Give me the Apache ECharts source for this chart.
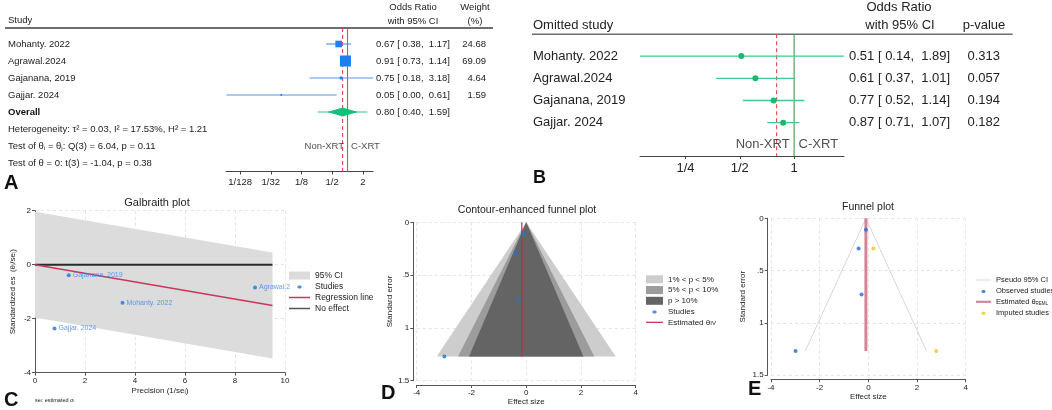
<!DOCTYPE html>
<html>
<head>
<meta charset="utf-8">
<script src="https://cdn.jsdelivr.net/npm/echarts@6/dist/echarts.min.js"></script>
<style>
html, body { margin: 0; padding: 0; background: #fff; }
#chart { width: 1052px; height: 410px; }
</style>
</head>
<body>
<div id="chart"></div>
<script>
// ---- A: forest plot ----
var studies = ['Mohanty. 2022', 'Agrawal.2024', 'Gajanana, 2019', 'Gajjar. 2024'];
var orA = [0.67, 0.91, 0.75, 0.05];
var loA = [0.38, 0.73, 0.18, 0.0042];
var hiA = [1.17, 1.14, 3.18, 0.61];
var weightA = [24.68, 69.09, 4.64, 1.59];
var overallA = [0.80, 0.40, 1.59];
var predA = [0.26, 2.46];
var statsA = [
  'Heterogeneity: τ² = 0.03, I² = 17.53%, H² = 1.21',
  'Test of θ{s|i} = θ{s|j}: Q(3) = 6.04, p = 0.11',
  'Test of θ = 0: t(3) = -1.04, p = 0.38'
];
var ticksA = [1 / 128, 1 / 32, 1 / 8, 1 / 2, 2];
var tickLabelsA = ['1/128', '1/32', '1/8', '1/2', '2'];

// ---- B: leave-one-out ----
var orB = [0.51, 0.61, 0.77, 0.87];
var loB = [0.14, 0.37, 0.52, 0.71];
var hiB = [1.89, 1.01, 1.14, 1.07];
var pB = ['0.313', '0.057', '0.194', '0.182'];
var overallB = 0.80;
var ticksB = [1 / 4, 1 / 2, 1];
var tickLabelsB = ['1/4', '1/2', '1'];

// ---- C: Galbraith ----
var precision = [3.5, 8.8, 1.35, 0.78];
var stdEs = [-1.41, -0.84, -0.39, -2.36];
var galX = [0, 9.5];
var regY = [0, -1.51];
var ciUp = [1.96, 0.45];
var ciLow = [-1.96, -3.47];

// ---- D / E: funnel plots ----
var effect = [-0.40, -0.10, -0.28, -2.99];
var se = [0.29, 0.11, 0.73, 1.27];
var contourNames = ['1% < p < 5%', '5% < p < 10%', 'p > 10%'];
var contourHalf = [3.27, 2.49, 2.09];
var contourColors = ['#cdcdcd', '#9c9c9c', '#646464'];
var seMax = 1.27;
var thetaIV = -0.16;
var imputedEff = [0.21, 2.79];
var imputedSe = [0.29, 1.27];
var thetaREML = -0.1;
var pseudoX = [-2.59, -0.1, 2.39];
var pseudoY = [1.27, 0, 1.27];

var FONT = '"Liberation Sans", Arial, sans-serif';
var log2 = function (v) { return Math.log(v) / Math.LN2; };
var ciText = function (o, l, h) { return o.toFixed(2) + ' [ ' + l.toFixed(2) + ',  ' + h.toFixed(2) + ']'; };

var rowsA = studies.concat(['Overall']).concat(statsA);
var rowsB = studies.concat(['']);

var chart = echarts.init(document.getElementById('chart'));

function renderStudyA(params, api) {
  var y = api.value(0);
  var c = api.coord([api.value(1), y]);
  var lo = api.coord([api.value(2), y]);
  var hi = api.coord([api.value(3), y]);
  var side = 1.33 * Math.sqrt(api.value(4));
  return { type: 'group', children: [
    { type: 'line', shape: { x1: lo[0], y1: c[1], x2: hi[0], y2: c[1] }, style: { stroke: '#5598e6', lineWidth: 1.2 } },
    { type: 'rect', shape: { x: c[0] - side / 2, y: c[1] - side / 2, width: side, height: side }, style: { fill: '#1f7ef0' } }
  ]};
}

function renderOverallA(params, api) {
  var y = api.value(0);
  var c = api.coord([api.value(1), y]);
  var lo = api.coord([api.value(2), y]);
  var hi = api.coord([api.value(3), y]);
  var pl = api.coord([api.value(4), y]);
  var ph = api.coord([api.value(5), y]);
  return { type: 'group', children: [
    { type: 'line', shape: { x1: pl[0], y1: c[1], x2: ph[0], y2: c[1] }, style: { stroke: '#2cc484', lineWidth: 1.2 } },
    { type: 'polygon', shape: { points: [[lo[0], c[1]], [c[0], c[1] - 4.5], [hi[0], c[1]], [c[0], c[1] + 4.5]] }, style: { fill: '#14bf78' } }
  ]};
}

function renderStudyB(params, api) {
  var y = api.value(0);
  var c = api.coord([api.value(1), y]);
  var lo = api.coord([api.value(2), y]);
  var hi = api.coord([api.value(3), y]);
  return { type: 'group', children: [
    { type: 'line', shape: { x1: lo[0], y1: c[1], x2: hi[0], y2: c[1] }, style: { stroke: '#3fcb8f', lineWidth: 1.3 } },
    { type: 'circle', shape: { cx: c[0], cy: c[1], r: 3 }, style: { fill: '#1cb870' } }
  ]};
}

function renderRef(ext) {
  return function (params, api) {
    var x = api.coord([api.value(0), 0])[0];
    var cs = params.coordSys;
    var dashed = api.value(2) === 1;
    return { type: 'line', shape: { x1: x, y1: cs.y - ext, x2: x, y2: cs.y + cs.height },
      style: { stroke: dashed ? '#e8454f' : '#3a9e52', lineWidth: 1.1, lineDash: dashed ? [4, 3] : null } };
  };
}

function renderBand(params, api) {
  var p = [
    api.coord([api.value(0), api.value(1)]), api.coord([api.value(3), api.value(4)]),
    api.coord([api.value(3), api.value(5)]), api.coord([api.value(0), api.value(2)])
  ];
  return { type: 'polygon', shape: { points: p }, style: { fill: api.visual('color') } };
}

function renderContour(params, api) {
  var h = api.value(0), s = api.value(1), c0 = api.value(2);
  var p = [api.coord([c0, 0]), api.coord([c0 - h, s]), api.coord([c0 + h, s])];
  return { type: 'polygon', shape: { points: p }, style: { fill: api.visual('color') } };
}

function stataAxis(extra) {
  var base = {
    type: 'value',
    axisLine: { show: true, onZero: false, lineStyle: { color: '#555', width: 1 } },
    axisTick: { show: true, length: 3, lineStyle: { color: '#555' } },
    axisLabel: { fontSize: 8, color: '#222', margin: 4, formatter: function (v) { return String(v).replace(/^0\./, '.'); } },
    splitLine: { show: true, lineStyle: { color: '#e4e4e4', type: [3, 3] } },
    nameLocation: 'middle',
    nameTextStyle: { fontSize: 8, color: '#222' }
  };
  for (var k in extra) base[k] = extra[k];
  return base;
}

var subRich = { s: { fontSize: 6, verticalAlign: 'bottom', padding: [3, 0, 0, 0] }, b: { fontSize: 9.5, fontWeight: 'bold', color: '#111' } };
var lineIcon = function (w, t) { return 'path://M0,0M' + w + ',8M0,' + (4 - t / 2) + 'L' + w + ',' + (4 - t / 2) + 'L' + w + ',' + (4 + t / 2) + 'L0,' + (4 + t / 2) + 'Z'; };
var dotIcon = function (w) { var c = w / 2; return 'path://M0,0M' + w + ',8M' + (c - 1) + ',3L' + (c + 1) + ',3L' + (c + 2) + ',4L' + (c + 2) + ',5L' + (c + 1) + ',6L' + (c - 1) + ',6L' + (c - 2) + ',5L' + (c - 2) + ',4Z'; };

var sideData = function (row) {
  return [
    { value: [0, row], label: { position: 'left', formatter: 'Non-XRT' } },
    { value: [0, row], label: { position: 'right', formatter: 'C-XRT' } }
  ];
};

var option = {
  animation: false,
  textStyle: { fontFamily: FONT },
  grid: [
    { left: 226, top: 35.5, width: 147, height: 136 },
    { left: 640, top: 45, width: 204, height: 111 },
    { left: 35, top: 210.7, width: 250, height: 162 },
    { left: 416.7, top: 222.3, width: 219, height: 158.4 },
    { left: 771, top: 218.3, width: 194.7, height: 156.7 }
  ],
  xAxis: [
    { gridIndex: 0, type: 'value', min: -7.92, max: 1.66,
      axisLine: { show: true, lineStyle: { color: '#444' } },
      axisTick: { show: true, customValues: ticksA.map(log2), length: 3, lineStyle: { color: '#444' } },
      axisLabel: { customValues: ticksA.map(log2), fontSize: 9.5, color: '#222', margin: 6,
        formatter: function (v) { return tickLabelsA[ticksA.map(log2).map(Math.round).indexOf(Math.round(v))]; } },
      splitLine: { show: false } },
    { gridIndex: 1, type: 'value', min: log2(0.14), max: log2(1.89),
      axisLine: { show: true, lineStyle: { color: '#444' } },
      axisTick: { show: true, customValues: ticksB.map(log2), length: 3, lineStyle: { color: '#444' } },
      axisLabel: { customValues: ticksB.map(log2), fontSize: 13, color: '#222', margin: 6,
        formatter: function (v) { return tickLabelsB[ticksB.map(log2).map(Math.round).indexOf(Math.round(v))]; } },
      splitLine: { show: false } },
    stataAxis({ gridIndex: 2, min: 0, max: 10, interval: 2, name: 'Precision (1/seᵢ)', nameGap: 14 }),
    stataAxis({ gridIndex: 3, min: -4, max: 4, interval: 2, offset: 4.3, name: 'Effect size', nameGap: 13 }),
    stataAxis({ gridIndex: 4, min: -4, max: 4, interval: 2, offset: 4.3, name: 'Effect size', nameGap: 13 })
  ],
  yAxis: [
    { gridIndex: 0, type: 'category', data: rowsA, inverse: true,
      axisLine: { show: false }, axisTick: { show: false },
      axisLabel: { align: 'left', margin: 218, fontSize: 9.5, color: '#222', rich: subRich,
        formatter: function (v, i) { return i === 4 ? '{b|Overall}' : v; } } },
    { gridIndex: 0, type: 'category', data: rowsA, inverse: true, position: 'right',
      axisLine: { show: false }, axisTick: { show: false },
      axisLabel: { align: 'left', margin: 3, fontSize: 9.5, color: '#222',
        rich: { c: { fontSize: 9.5, width: 80 }, w: { fontSize: 9.5, width: 30, align: 'right' } },
        formatter: function (v, i) {
          if (i < 4) return '{c|' + ciText(orA[i], loA[i], hiA[i]) + '}{w|' + weightA[i].toFixed(2) + '}';
          if (i === 4) return '{c|' + ciText(overallA[0], overallA[1], overallA[2]) + '}';
          return '';
        } } },
    { gridIndex: 1, type: 'category', data: rowsB, inverse: true,
      axisLine: { show: false }, axisTick: { show: false },
      axisLabel: { align: 'left', margin: 107, fontSize: 13, color: '#222' } },
    { gridIndex: 1, type: 'category', data: rowsB, inverse: true, position: 'right',
      axisLine: { show: false }, axisTick: { show: false },
      axisLabel: { align: 'left', margin: 5, fontSize: 13, color: '#222',
        rich: { c: { fontSize: 13, width: 118 }, p: { fontSize: 13, width: 33, align: 'right' } },
        formatter: function (v, i) {
          return i < 4 ? '{c|' + ciText(orB[i], loB[i], hiB[i]) + '}{p|' + pB[i] + '}' : '';
        } } },
    stataAxis({ gridIndex: 2, min: -4, max: 2, interval: 2, name: 'Standardized es  (θᵢ/seᵢ)', nameGap: 18 }),
    stataAxis({ gridIndex: 3, min: 0, max: 1.5, interval: 0.5, inverse: true, offset: 3.4, name: 'Standard error', nameGap: 20 }),
    stataAxis({ gridIndex: 4, min: 0, max: 1.5, interval: 0.5, inverse: true, offset: 3.3, name: 'Standard error', nameGap: 21 })
  ],
  legend: [
    { left: 289, top: 271, orient: 'vertical', padding: 0, itemGap: 2, itemWidth: 21, itemHeight: 8,
      textStyle: { fontSize: 8.5, color: '#222' }, selectedMode: false,
      data: [
        { name: '95% CI', icon: 'rect' },
        { name: 'Studies', icon: dotIcon(21) },
        { name: 'Regression line', icon: lineIcon(21, 1.5) },
        { name: 'No effect', icon: lineIcon(21, 1.5), itemStyle: { color: '#555' } }
      ] },
    { left: 646, top: 275.3, orient: 'vertical', padding: 0, itemGap: 2.75, itemWidth: 17, itemHeight: 8,
      textStyle: { fontSize: 8, color: '#222', rich: subRich }, selectedMode: false,
      formatter: function (n) { return n.replace(/ D$/, '').replace(/_(\w+)/, '{s|$1}'); },
      data: [
        { name: contourNames[0], icon: 'rect' },
        { name: contourNames[1], icon: 'rect' },
        { name: contourNames[2], icon: 'rect' },
        { name: 'Studies D', icon: dotIcon(17) },
        { name: 'Estimated θ_IV', icon: lineIcon(17, 1.2) }
      ] },
    { left: 976, top: 276, orient: 'vertical', padding: 0, itemGap: 2.9, itemWidth: 15, itemHeight: 8,
      textStyle: { fontSize: 7.5, color: '#222', rich: { s: { fontSize: 4.5, verticalAlign: 'bottom', padding: [3, 0, 0, 0] } } }, selectedMode: false,
      formatter: function (n) { return n.replace(/_(\w+)/, '{s|$1}'); },
      data: [
        { name: 'Pseudo 95% CI', icon: lineIcon(15, 1) },
        { name: 'Observed studies', icon: dotIcon(15) },
        { name: 'Estimated θ_REML', icon: lineIcon(15, 2.2) },
        { name: 'Imputed studies', icon: dotIcon(15) }
      ] }
  ],
  graphic: [
    // header rules and column titles
    { type: 'line', shape: { x1: 5, y1: 28, x2: 493, y2: 28 }, style: { stroke: '#6e6e6e', lineWidth: 2 } },
    { type: 'line', shape: { x1: 532, y1: 34.3, x2: 1012.7, y2: 34.3 }, style: { stroke: '#6e6e6e', lineWidth: 1.5 } },
    { type: 'text', x: 8, y: 20, style: { text: 'Study', font: '9.5px ' + FONT, fill: '#222', align: 'left', verticalAlign: 'middle' } },
    { type: 'text', x: 413, y: 7, style: { text: 'Odds Ratio', font: '9.5px ' + FONT, fill: '#222', align: 'center', verticalAlign: 'middle' } },
    { type: 'text', x: 413, y: 21, style: { text: 'with 95% CI', font: '9.5px ' + FONT, fill: '#222', align: 'center', verticalAlign: 'middle' } },
    { type: 'text', x: 475, y: 7, style: { text: 'Weight', font: '9.5px ' + FONT, fill: '#222', align: 'center', verticalAlign: 'middle' } },
    { type: 'text', x: 475, y: 21, style: { text: '(%)', font: '9.5px ' + FONT, fill: '#222', align: 'center', verticalAlign: 'middle' } },
    { type: 'text', x: 533, y: 25, style: { text: 'Omitted study', font: '13px ' + FONT, fill: '#222', align: 'left', verticalAlign: 'middle' } },
    { type: 'text', x: 899, y: 7.3, style: { text: 'Odds Ratio', font: '13px ' + FONT, fill: '#222', align: 'center', verticalAlign: 'middle' } },
    { type: 'text', x: 900, y: 25, style: { text: 'with 95% CI', font: '13px ' + FONT, fill: '#222', align: 'center', verticalAlign: 'middle' } },
    { type: 'text', x: 984, y: 25, style: { text: 'p-value', font: '13px ' + FONT, fill: '#222', align: 'center', verticalAlign: 'middle' } },
    // plot titles
    { type: 'text', x: 157, y: 203, style: { text: 'Galbraith plot', font: '11px ' + FONT, fill: '#222', align: 'center', verticalAlign: 'middle' } },
    { type: 'text', x: 527, y: 210.5, style: { text: 'Contour-enhanced funnel plot', font: '10.5px ' + FONT, fill: '#222', align: 'center', verticalAlign: 'middle' } },
    { type: 'text', x: 868, y: 207, style: { text: 'Funnel plot', font: '10.5px ' + FONT, fill: '#222', align: 'center', verticalAlign: 'middle' } },
    { type: 'text', x: 35, y: 400.5, style: { text: 'seᵢ: estimated σᵢ', font: '5.5px ' + FONT, fill: '#222', align: 'left', verticalAlign: 'middle' } },
    // panel letters
    { type: 'text', x: 4, y: 183, style: { text: 'A', font: 'bold 20px ' + FONT, fill: '#111', align: 'left', verticalAlign: 'middle' } },
    { type: 'text', x: 533, y: 178, style: { text: 'B', font: 'bold 18px ' + FONT, fill: '#111', align: 'left', verticalAlign: 'middle' } },
    { type: 'text', x: 4, y: 400, style: { text: 'C', font: 'bold 20px ' + FONT, fill: '#111', align: 'left', verticalAlign: 'middle' } },
    { type: 'text', x: 381, y: 393, style: { text: 'D', font: 'bold 20px ' + FONT, fill: '#111', align: 'left', verticalAlign: 'middle' } },
    { type: 'text', x: 748, y: 389, style: { text: 'E', font: 'bold 20px ' + FONT, fill: '#111', align: 'left', verticalAlign: 'middle' } }
  ],
  series: [
    // ---- A ----
    { type: 'custom', name: 'refA', xAxisIndex: 0, yAxisIndex: 0, renderItem: renderRef(7.5), z: 1,
      encode: { x: 0, y: 1 }, data: [[0, 0, 0], [log2(overallA[0]), 0, 1]] },
    { type: 'custom', name: 'studyA', xAxisIndex: 0, yAxisIndex: 0, renderItem: renderStudyA, z: 3,
      encode: { x: [1, 2, 3], y: 0 },
      data: studies.map(function (s, i) { return [i, log2(orA[i]), log2(loA[i]), log2(hiA[i]), weightA[i]]; }) },
    { type: 'custom', name: 'overallA', xAxisIndex: 0, yAxisIndex: 0, renderItem: renderOverallA, z: 3,
      encode: { x: [1, 2, 3], y: 0 },
      data: [[4, log2(overallA[0]), log2(overallA[1]), log2(overallA[2]), log2(predA[0]), log2(predA[1])]] },
    { type: 'scatter', name: 'sideA', xAxisIndex: 0, yAxisIndex: 0, symbolSize: 1, itemStyle: { color: 'rgba(0,0,0,0)' },
      label: { show: true, fontSize: 9.5, color: '#222', distance: 3 }, data: sideData(6) },
    // ---- B ----
    { type: 'custom', name: 'refB', xAxisIndex: 1, yAxisIndex: 2, renderItem: renderRef(10.7), z: 1,
      encode: { x: 0, y: 1 }, data: [[0, 0, 0], [log2(overallB), 0, 1]] },
    { type: 'custom', name: 'studyB', xAxisIndex: 1, yAxisIndex: 2, renderItem: renderStudyB, z: 3,
      encode: { x: [1, 2, 3], y: 0 },
      data: studies.map(function (s, i) { return [i, log2(orB[i]), log2(loB[i]), log2(hiB[i])]; }) },
    { type: 'scatter', name: 'sideB', xAxisIndex: 1, yAxisIndex: 2, symbolSize: 1, itemStyle: { color: 'rgba(0,0,0,0)' },
      label: { show: true, fontSize: 13, color: '#222', distance: 4 }, data: sideData(4) },
    // ---- C ----
    { type: 'custom', name: '95% CI', xAxisIndex: 2, yAxisIndex: 4, renderItem: renderBand, z: 1,
      itemStyle: { color: '#dcdcdc' }, encode: { x: [0, 3], y: [1, 2, 4, 5] },
      data: [[galX[0], ciUp[0], ciLow[0], galX[1], ciUp[1], ciLow[1]]] },
    { type: 'line', name: 'No effect', xAxisIndex: 2, yAxisIndex: 4, symbol: 'none', z: 2,
      color: '#2a2a2a', lineStyle: { width: 2, color: '#2a2a2a' }, data: [[galX[0], 0], [galX[1], 0]] },
    { type: 'line', name: 'Regression line', xAxisIndex: 2, yAxisIndex: 4, symbol: 'none', z: 3,
      color: '#c8365e', lineStyle: { width: 1.4, color: '#c8365e' }, data: [[galX[0], regY[0]], [galX[1], regY[1]]] },
    { type: 'scatter', name: 'Studies', xAxisIndex: 2, yAxisIndex: 4, symbolSize: 4, z: 4, color: '#1f74e0',
      label: { show: true, position: 'right', distance: 2, fontSize: 7, color: '#3d85e6' },
      data: studies.map(function (s, i) {
        var item = { value: [precision[i], stdEs[i]], label: { formatter: s } };
        if (i === 1) { item.label.width = 34; item.label.overflow = 'truncate'; item.label.ellipsis = ''; }
        return item;
      }) },
    // ---- D ----
    { type: 'custom', name: contourNames[0], xAxisIndex: 3, yAxisIndex: 5, renderItem: renderContour, z: 1,
      itemStyle: { color: contourColors[0] }, encode: { x: 0, y: 1 }, data: [[contourHalf[0], seMax, 0]] },
    { type: 'custom', name: contourNames[1], xAxisIndex: 3, yAxisIndex: 5, renderItem: renderContour, z: 1,
      itemStyle: { color: contourColors[1] }, encode: { x: 0, y: 1 }, data: [[contourHalf[1], seMax, 0]] },
    { type: 'custom', name: contourNames[2], xAxisIndex: 3, yAxisIndex: 5, renderItem: renderContour, z: 1,
      itemStyle: { color: contourColors[2] }, encode: { x: 0, y: 1 }, data: [[contourHalf[2], seMax, 0]] },
    { type: 'line', name: 'Estimated θ_IV', xAxisIndex: 3, yAxisIndex: 5, symbol: 'none', z: 3,
      color: '#c8264a', lineStyle: { width: 1.2, color: '#c8264a' }, data: [[thetaIV, 0], [thetaIV, seMax]] },
    { type: 'scatter', name: 'Studies D', xAxisIndex: 3, yAxisIndex: 5, symbolSize: 4, z: 4, color: '#1f74e0',
      data: effect.map(function (e, i) { return [e, se[i]]; }) },
    // ---- E ----
    { type: 'line', name: 'Pseudo 95% CI', xAxisIndex: 4, yAxisIndex: 6, symbol: 'none', z: 2,
      color: '#ddd4d4', lineStyle: { width: 1, color: '#ddd4d4' },
      data: pseudoX.map(function (x, i) { return [x, pseudoY[i]]; }) },
    { type: 'line', name: 'Estimated θ_REML', xAxisIndex: 4, yAxisIndex: 6, symbol: 'none', z: 3,
      color: '#d48597', lineStyle: { width: 3, color: '#d48597' }, data: [[thetaREML, 0], [thetaREML, seMax]] },
    { type: 'scatter', name: 'Observed studies', xAxisIndex: 4, yAxisIndex: 6, symbolSize: 4, z: 4, color: '#1f6ad8',
      data: effect.map(function (e, i) { return [e, se[i]]; }) },
    { type: 'scatter', name: 'Imputed studies', xAxisIndex: 4, yAxisIndex: 6, symbolSize: 4, z: 4, color: '#f6c419',
      data: imputedEff.map(function (e, i) { return [e, imputedSe[i]]; }) }
  ]
};

chart.setOption(option);
</script>
</body>
</html>
